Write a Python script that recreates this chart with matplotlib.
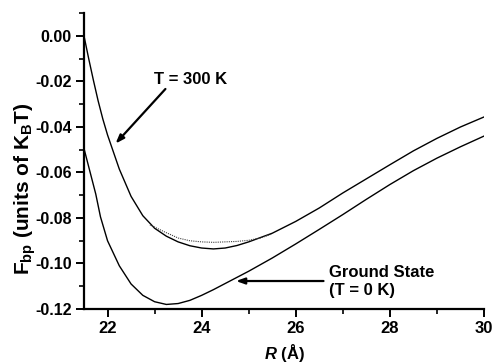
import matplotlib
matplotlib.use('Agg')
import matplotlib.pyplot as plt
from matplotlib.ticker import MultipleLocator, FormatStrFormatter

# Fonts: bold sans everywhere, mathtext in matching bold
plt.rcParams['font.family'] = ['Liberation Sans', 'DejaVu Sans']
plt.rcParams['font.weight'] = 'bold'
plt.rcParams['axes.labelweight'] = 'bold'
plt.rcParams['mathtext.fontset'] = 'custom'
plt.rcParams['mathtext.rm'] = 'Liberation Sans:bold'
plt.rcParams['mathtext.bf'] = 'Liberation Sans:bold'
plt.rcParams['mathtext.it'] = 'Liberation Sans:italic:bold'

# T = 300 K curve
r_300 = [21.5, 21.6, 21.7, 21.8, 21.9, 22.0, 22.25, 22.5, 22.75, 23.0, 23.25,
         23.5, 23.75, 24.0, 24.25, 24.5, 24.75, 25.0, 25.5, 26.0, 26.5, 27.0,
         27.5, 28.0, 28.5, 29.0, 29.5, 30.0]
f_300 = [0.0, -0.0100, -0.0195, -0.0285, -0.0365, -0.0435, -0.0585, -0.0705,
         -0.0790, -0.0845, -0.0880, -0.0905, -0.0922, -0.0932, -0.0936, -0.0932,
         -0.0921, -0.0905, -0.0867, -0.0815, -0.0756, -0.0690, -0.0628, -0.0566,
         -0.0505, -0.0450, -0.0400, -0.0356]

# dotted variant near the minimum
r_dot = [22.9, 23.2, 23.5, 23.75, 24.0, 24.25, 24.5, 24.75, 25.0, 25.25, 25.5]
f_dot = [-0.0830, -0.0860, -0.0888, -0.0900, -0.0905, -0.0907, -0.0905,
         -0.0903, -0.0898, -0.0888, -0.0870]

# ground state (T = 0 K) curve
r_gs = [21.5, 21.6, 21.75, 21.85, 22.0, 22.25, 22.5, 22.75, 23.0, 23.25, 23.5,
        23.75, 24.0, 24.25, 24.5, 24.75, 25.0, 25.5, 26.0, 26.5, 27.0, 27.5,
        28.0, 28.5, 29.0, 29.5, 30.0]
f_gs = [-0.0495, -0.0575, -0.0695, -0.0795, -0.0900, -0.1010, -0.1090, -0.1140,
        -0.1168, -0.1180, -0.1176, -0.1162, -0.1140, -0.1115, -0.1088, -0.1061,
        -0.1034, -0.0976, -0.0914, -0.0850, -0.0785, -0.0718, -0.0653, -0.0592,
        -0.0537, -0.0487, -0.0440]

fig = plt.figure(figsize=(4.93, 3.64), dpi=100)
ax = fig.add_axes([0.1704, 0.1511, 0.8113, 0.8132])

ax.plot(r_300, f_300, color='black', lw=1.0)
ax.plot(r_dot, f_dot, color='0.25', lw=0.8, ls=(0, (1, 1)))
ax.plot(r_gs, f_gs, color='black', lw=1.0)

ax.set_xlim(21.5, 30)
ax.set_ylim(-0.12, 0.0101)

for s in ['top', 'right']:
    ax.spines[s].set_visible(False)
for s in ['left', 'bottom']:
    ax.spines[s].set_linewidth(1.6)

ax.xaxis.set_major_locator(MultipleLocator(2))
ax.xaxis.set_minor_locator(MultipleLocator(1))
ax.yaxis.set_major_locator(MultipleLocator(0.02))
ax.yaxis.set_minor_locator(MultipleLocator(0.01))
ax.yaxis.set_major_formatter(FormatStrFormatter('%.2f'))
ax.tick_params(which='major', direction='out', length=6, width=1.4)
ax.tick_params(which='minor', direction='out', length=3.5, width=1.2)
ax.tick_params(axis='x', labelsize=12, pad=3)
ax.tick_params(axis='y', labelsize=11.5, pad=3)

ax.set_xlabel('$R$ (Å)', fontsize=12, fontweight='bold', labelpad=4)
ax.set_ylabel('F$_{\\mathrm{bp}}$ (units of K$_{\\mathrm{B}}$T)', fontsize=15,
              fontweight='bold')
ax.yaxis.set_label_coords(-0.115, 0.405)

# annotations
arrow = dict(arrowstyle='-|>,head_length=0.5,head_width=0.18', color='black',
             lw=1.6, shrinkA=0, shrinkB=0)
ax.text(23.77, -0.0193, 'T = 300 K', fontsize=12, ha='center', va='center')
ax.annotate('', xy=(22.17, -0.0473), xytext=(23.23, -0.0233), arrowprops=arrow)
ax.text(26.70, -0.1079, 'Ground State\n(T = 0 K)', fontsize=12, ha='left',
        va='center', linespacing=1.25)
ax.annotate('', xy=(24.73, -0.1077), xytext=(26.59, -0.1077), arrowprops=arrow)

fig.savefig('out.png', dpi=100)
